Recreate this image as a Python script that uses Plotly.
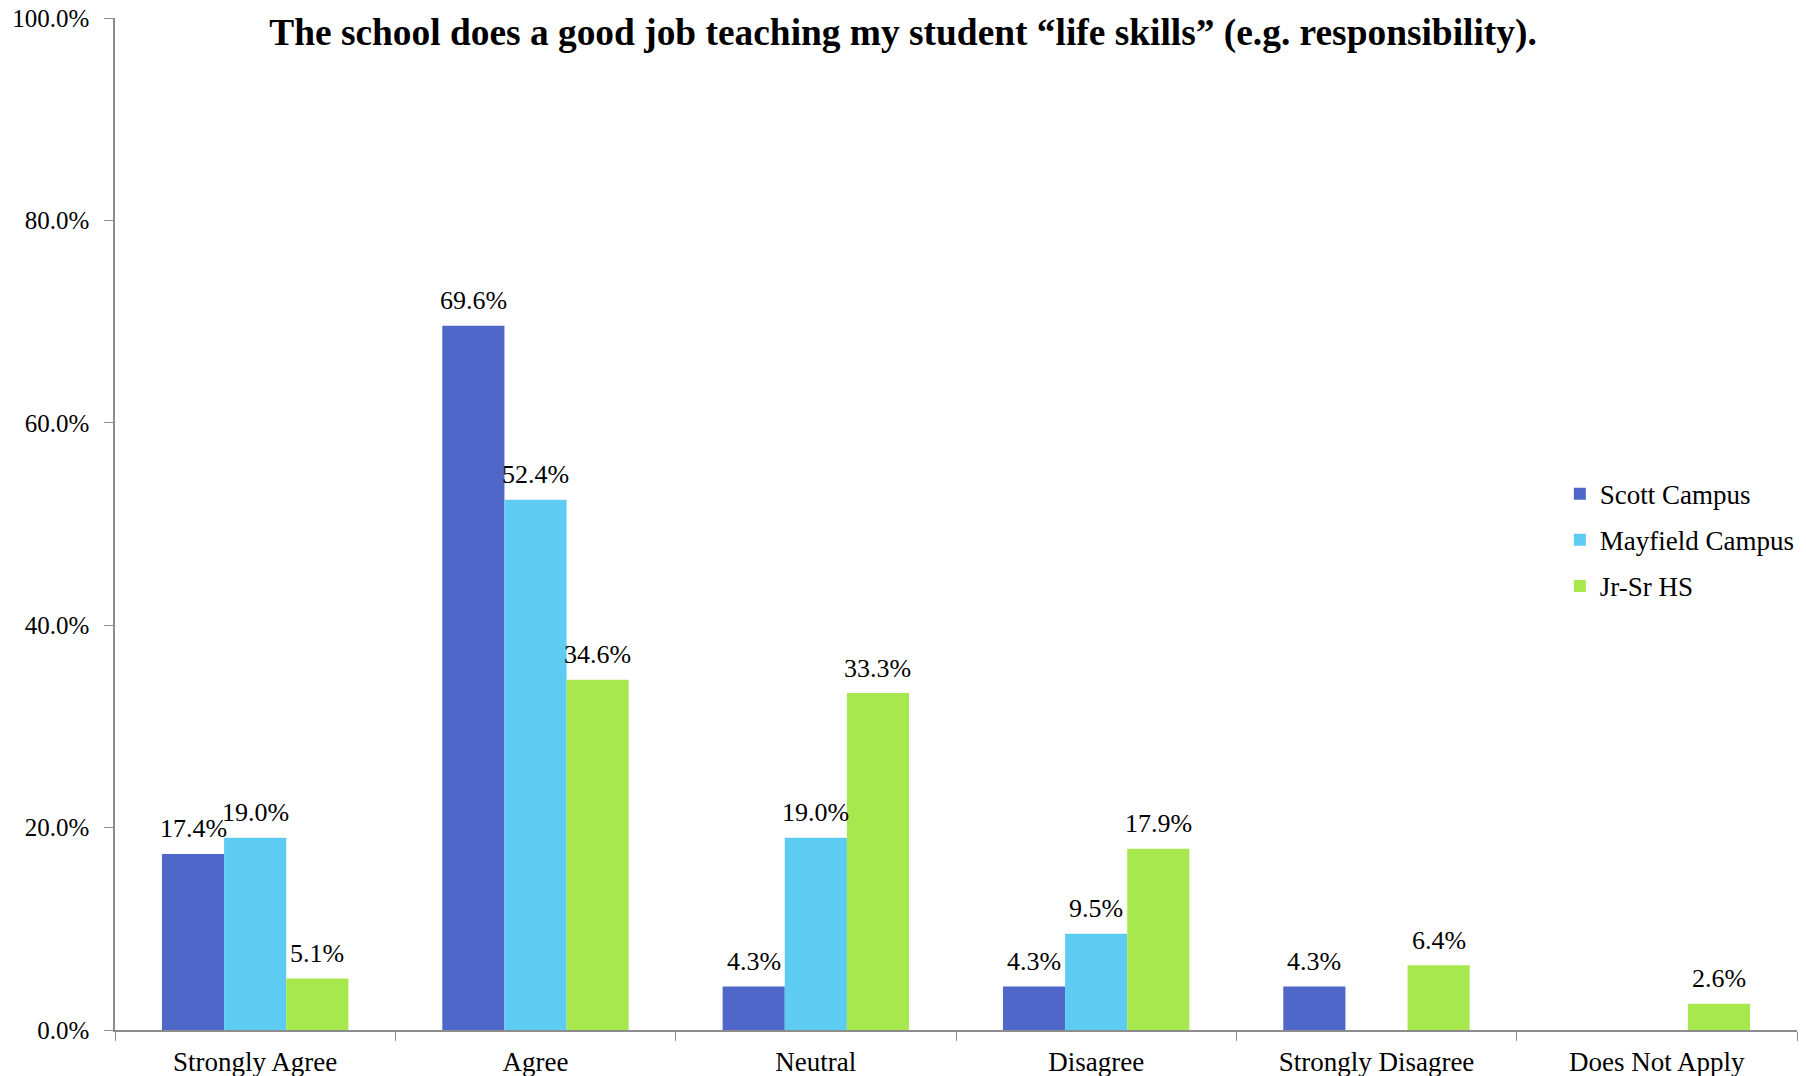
import plotly.graph_objects as go

categories = ["Strongly Agree", "Agree", "Neutral", "Disagree", "Strongly Disagree", "Does Not Apply"]
scott = [17.4, 69.6, 4.3, 4.3, 4.3, 0.0]
mayfield = [19.0, 52.4, 19.0, 9.5, 0.0, 0.0]
jrsr = [5.1, 34.6, 33.3, 17.9, 6.4, 2.6]
series_names = ["Scott Campus", "Mayfield Campus", "Jr-Sr HS"]
colors = ["#4F67C8", "#5DCBF2", "#A8E84F"]
ytick_vals = [0, 20, 40, 60, 80, 100]
ytick_text = ["0.0%", "20.0%", "40.0%", "60.0%", "80.0%", "100.0%"]
title = "The school does a good job teaching my student \u201clife skills\u201d (e.g. responsibility)."

FONT = "Liberation Serif, Times New Roman, serif"
BARGAP = 0.335
series = [scott, mayfield, jrsr]

fig = go.Figure()
for i, (name, vals, col) in enumerate(zip(series_names, series, colors)):
    fig.add_trace(go.Bar(
        name=name, x=categories, y=vals, legendgroup=f"g{i}",
        marker=dict(color=col, line=dict(width=0)),
        cliponaxis=False,
    ))

# value labels above bars, placed through the axis scales
bw = (1 - BARGAP) / len(series)
annotations = []
for si, vals in enumerate(series):
    off = (si - (len(series) - 1) / 2) * bw
    for ci, v in enumerate(vals):
        if v > 0:
            annotations.append(dict(
                x=ci + off, y=v, xref="x", yref="y", text=f"{v:.1f}%",
                showarrow=False, yanchor="middle", xanchor="center", yshift=25,
                font=dict(family=FONT, size=26, color="#000000"),
            ))

fig.update_layout(
    width=1806, height=1076,
    barmode="group", bargap=BARGAP, bargroupgap=0,
    plot_bgcolor="white", paper_bgcolor="white",
    margin=dict(l=115, r=6, t=18, b=46),
    font=dict(family=FONT, size=26, color="#000000"),
    title=dict(text="<b>" + title + "</b>", x=0.5, xref="container", y=1 - 32 / 1076, yref="container",
               xanchor="center", yanchor="middle", automargin=False,
               font=dict(family=FONT, size=37.4, color="#000000")),
    legend=dict(x=0.859, y=0.484, xanchor="left", yanchor="middle",
                font=dict(family=FONT, size=27), bgcolor="rgba(0,0,0,0)",
                itemsizing="constant", tracegroupgap=8),
    showlegend=True,
    annotations=annotations,
    xaxis=dict(showline=True, linecolor="#8c8c8c", linewidth=1.5, automargin=False,
               ticks="outside", tickson="boundaries", ticklen=9, tickcolor="#8c8c8c",
               ticklabelstandoff=7,
               tickfont=dict(family=FONT, size=27), showgrid=False, zeroline=False),
    yaxis=dict(range=[0, 100], tickvals=ytick_vals, ticktext=ytick_text, automargin=False,
               showline=True, linecolor="#8c8c8c", linewidth=1.5,
               ticks="outside", ticklen=9, tickcolor="#8c8c8c",
               ticklabelstandoff=10,
               tickfont=dict(family=FONT, size=25), showgrid=False, zeroline=False),
)

fig.write_html("out.html", config={"displayModeBar": False},
               post_script="document.body.style.margin='0';")
